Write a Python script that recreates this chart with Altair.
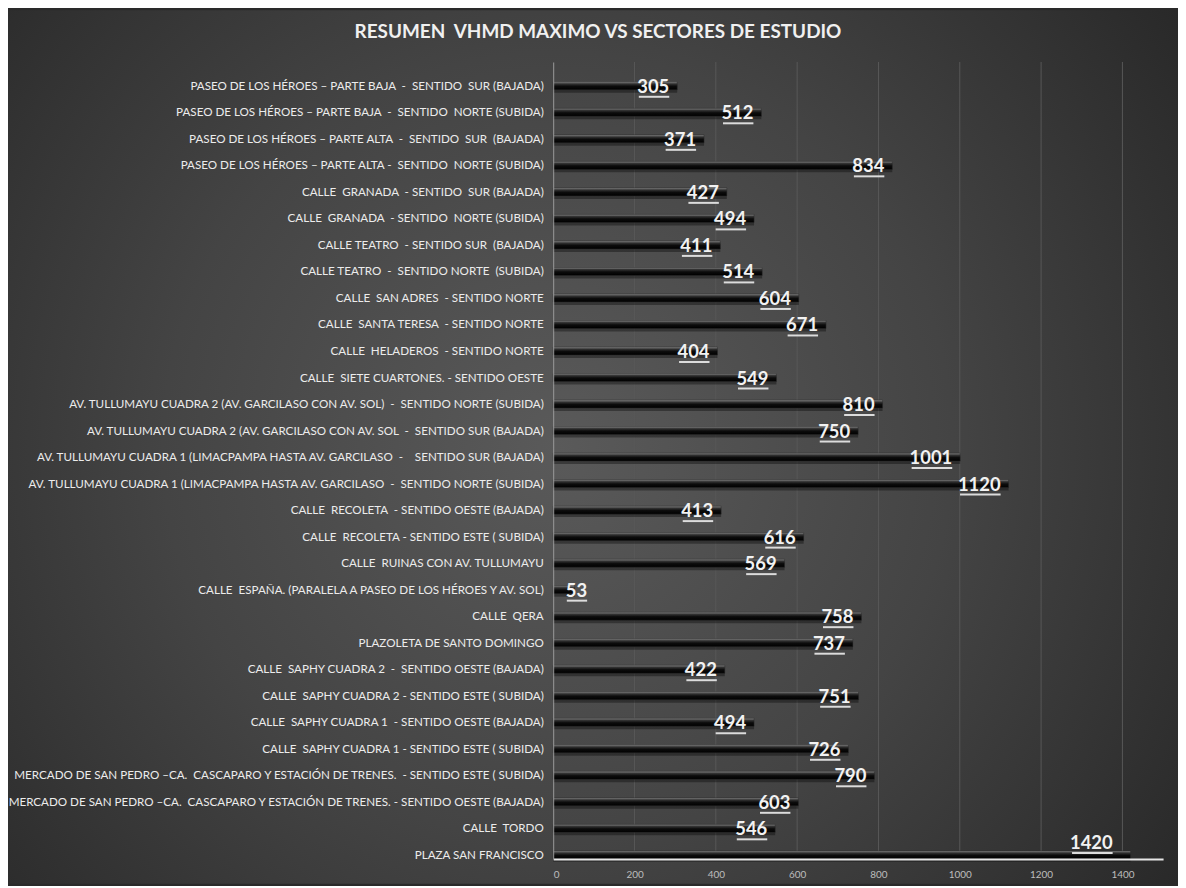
import altair as alt
import pandas as pd

titulo = "RESUMEN  VHMD MAXIMO VS SECTORES DE ESTUDIO"

sectores = [
    "PASEO DE LOS HÉROES – PARTE BAJA  -  SENTIDO  SUR (BAJADA)",
    "PASEO DE LOS HÉROES – PARTE BAJA  -  SENTIDO  NORTE (SUBIDA)",
    "PASEO DE LOS HÉROES – PARTE ALTA  -  SENTIDO  SUR  (BAJADA)",
    "PASEO DE LOS HÉROES – PARTE ALTA -   SENTIDO  NORTE (SUBIDA)",
    "CALLE  GRANADA  - SENTIDO  SUR (BAJADA)",
    "CALLE  GRANADA  - SENTIDO  NORTE (SUBIDA)",
    "CALLE TEATRO  - SENTIDO SUR  (BAJADA)",
    "CALLE TEATRO  -  SENTIDO NORTE  (SUBIDA)",
    "CALLE  SAN ADRES  - SENTIDO NORTE",
    "CALLE  SANTA TERESA  - SENTIDO NORTE",
    "CALLE  HELADEROS  - SENTIDO NORTE",
    "CALLE  SIETE CUARTONES. - SENTIDO OESTE",
    "AV. TULLUMAYU CUADRA 2 (AV. GARCILASO CON AV. SOL)  -  SENTIDO NORTE (SUBIDA)",
    "AV. TULLUMAYU CUADRA 2 (AV. GARCILASO CON AV. SOL   -   SENTIDO SUR (BAJADA)",
    "AV. TULLUMAYU CUADRA 1 (LIMACPAMPA HASTA AV. GARCILASO   -    SENTIDO SUR (BAJADA)",
    "AV. TULLUMAYU CUADRA 1 (LIMACPAMPA HASTA AV. GARCILASO   -   SENTIDO NORTE (SUBIDA)",
    "CALLE  RECOLETA  - SENTIDO OESTE (BAJADA)",
    "CALLE  RECOLETA - SENTIDO ESTE ( SUBIDA)",
    "CALLE  RUINAS CON AV. TULLUMAYU",
    "CALLE  ESPAÑA. (PARALELA A PASEO DE LOS HÉROES Y AV. SOL)",
    "CALLE  QERA",
    "PLAZOLETA DE SANTO DOMINGO",
    "CALLE  SAPHY CUADRA 2  -  SENTIDO OESTE (BAJADA)",
    "CALLE  SAPHY CUADRA 2 - SENTIDO ESTE ( SUBIDA)",
    "CALLE  SAPHY CUADRA 1  - SENTIDO OESTE (BAJADA)",
    "CALLE  SAPHY CUADRA 1 - SENTIDO ESTE ( SUBIDA)",
    "MERCADO DE SAN PEDRO –CA.  CASCAPARO Y ESTACIÓN DE TRENES.  - SENTIDO ESTE ( SUBIDA)",
    "MERCADO DE SAN PEDRO –CA.  CASCAPARO Y ESTACIÓN DE TRENES. - SENTIDO OESTE (BAJADA)",
    "CALLE  TORDO",
    "PLAZA SAN FRANCISCO",
]

vhmd = [305, 512, 371, 834, 427, 494, 411, 514, 604, 671, 404, 549, 810, 750,
        1001, 1120, 413, 616, 569, 53, 758, 737, 422, 751, 494, 726, 790, 603,
        546, 1420]

ticks_x = [0, 200, 400, 600, 800, 1000, 1200, 1400]

df = pd.DataFrame({"sector": sectores, "vhmd": vhmd})
df_grid = pd.DataFrame({"g": ticks_x[1:]})

W, H = 613, 801
PL, PT, PR, PB = 548, 52, 15, 25
UNIT = 1500 / W  # data units per pixel

xs = alt.Scale(domain=[0, 1500], nice=False, zero=True)
ys = alt.Scale(domain=sectores, paddingInner=0.7, paddingOuter=0.375, align=1)

x_axis = alt.Axis(values=ticks_x, title=None, grid=False, ticks=False, format="d",
                  labelFontSize=10, labelColor="#bdbdbd", labelFont="Lato",
                  labelPadding=11, domainColor="#e6e6e6", domainWidth=2,
                  zindex=1)
y_axis = alt.Axis(title=None, ticks=False, labelFontSize=11.7, labelFont="Lato",
                  labelExpr="replace(datum.label, regexp('  ', 'g'), '\u00a0 ')",
                  labelColor="#ececec", labelPadding=10, labelLimit=0,
                  domainColor="#9a9a9a", domainWidth=1, zindex=1)

one = alt.Data(values=[{"t": titulo}])

bg = alt.Chart(one).mark_rect(
    clip=False,
    color=alt.RadialGradient(
        gradient="radial", x1=0.47, y1=0.5, x2=0.47, y2=0.5, r1=0, r2=0.75,
        stops=[alt.GradientStop(color="#5a5a5a", offset=0),
               alt.GradientStop(color="#444444", offset=0.45),
               alt.GradientStop(color="#202020", offset=1)]),
).encode(x=alt.value(-PL), x2=alt.value(W + PR), y=alt.value(-PT), y2=alt.value(H + PB))

title_mark = alt.Chart(one).transform_calculate(
    tt="replace(datum.t, regexp('  ', 'g'), '\u00a0 ')"
).mark_text(
    clip=False, align="center", baseline="middle", font="Lato", fontSize=19,
    fontWeight="bold", color="#f0f0f0",
).encode(x=alt.value(45), y=alt.value(-30), text="tt:N")

grid = alt.Chart(df_grid).mark_rule(color="#585858", strokeWidth=1).encode(
    x=alt.X("g:Q", scale=xs, axis=x_axis)
)

base = alt.Chart(df)

shadow = base.mark_bar(color="#000000", opacity=0.35, yOffset=3, height=8).encode(
    x=alt.X("vhmd:Q", scale=xs, axis=x_axis),
    y=alt.Y("sector:N", scale=ys, axis=y_axis, sort=None),
)

bars = base.mark_bar(
    color=alt.LinearGradient(
        gradient="linear", x1=0, y1=0, x2=0, y2=1,
        stops=[alt.GradientStop(color="#8c8c8c", offset=0),
               alt.GradientStop(color="#333333", offset=0.25),
               alt.GradientStop(color="#0c0c0c", offset=0.55),
               alt.GradientStop(color="#000000", offset=1)]),
    stroke="#2a2a2a", strokeWidth=0.5,
).encode(
    x=alt.X("vhmd:Q", scale=xs, axis=x_axis),
    y=alt.Y("sector:N", scale=ys, axis=y_axis, sort=None),
)

lab = base.transform_calculate(
    lx="max(datum.vhmd, 103)",
    ue=f"max(datum.vhmd, 103) - {8 * UNIT}",
    us=f"max(datum.vhmd, 103) - {8 * UNIT} - length(toString(datum.vhmd)) * {10.2 * UNIT}",
)

labels = lab.transform_filter("datum.vhmd < 1400").mark_text(
    align="right", baseline="middle", dx=-8, dy=1, fontSize=18.5, font="Lato",
    fontWeight="bold", color="#f2f2f2",
).encode(
    x=alt.X("lx:Q", scale=xs, axis=x_axis),
    y=alt.Y("sector:N", scale=ys, axis=y_axis, sort=None),
    text="vhmd:Q",
)

unders = lab.transform_filter("datum.vhmd < 1400").mark_rule(
    color="#dcdcdc", strokeWidth=2, yOffset=11,
).encode(
    x=alt.X("us:Q", scale=xs, axis=x_axis),
    x2="ue:Q",
    y=alt.Y("sector:N", scale=ys, axis=y_axis, sort=None),
)

lab_top = base.transform_filter("datum.vhmd >= 1400").transform_calculate(
    ue=f"datum.vhmd - {18 * UNIT}",
    us=f"datum.vhmd - {18 * UNIT} - length(toString(datum.vhmd)) * {10.2 * UNIT}",
)

label_max = lab_top.mark_text(
    align="right", baseline="middle", dx=-18, dy=-12, fontSize=18.5, font="Lato",
    fontWeight="bold", color="#f2f2f2",
).encode(
    x=alt.X("vhmd:Q", scale=xs, axis=x_axis),
    y=alt.Y("sector:N", scale=ys, axis=y_axis, sort=None),
    text="vhmd:Q",
)

under_max = lab_top.mark_rule(color="#dcdcdc", strokeWidth=2, yOffset=-2).encode(
    x=alt.X("us:Q", scale=xs, axis=x_axis),
    x2="ue:Q",
    y=alt.Y("sector:N", scale=ys, axis=y_axis, sort=None),
)

chart = alt.layer(bg, title_mark, grid, shadow, bars, unders, labels,
                  under_max, label_max).properties(
    width=W, height=H,
    padding={"left": PL, "top": PT, "right": PR, "bottom": PB},
    autosize=alt.AutoSizeParams(type="none"),
).configure(background="#2a2a2a").configure_view(stroke=None)

chart.save("out.html", embed_options={"renderer": "svg", "actions": False})
